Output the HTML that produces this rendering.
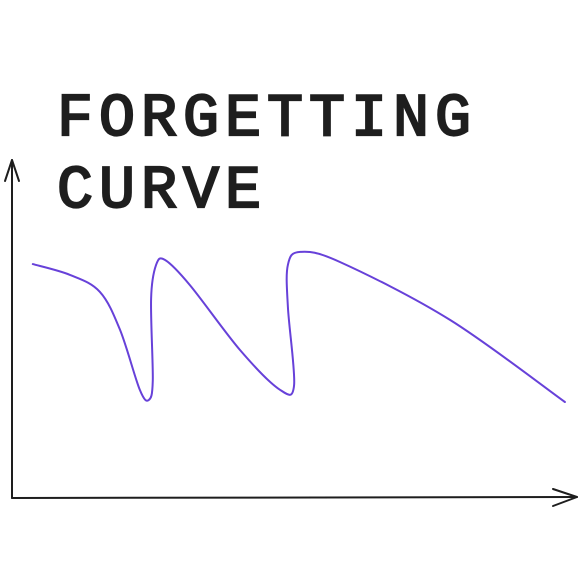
<!DOCTYPE html>
<html><head><meta charset="utf-8"><style>
html,body{margin:0;padding:0;background:#fff;}
svg{display:block;}
</style></head><body>
<svg width="586" height="586" viewBox="0 0 586 586">
<rect width="586" height="586" fill="#ffffff"/>
<text x="57" y="135" font-family="Liberation Mono, monospace" font-size="60" letter-spacing="6" fill="#1e1e1e" stroke="#1e1e1e" stroke-width="2.2">FORGETTING</text>
<text x="57" y="207" font-family="Liberation Mono, monospace" font-size="60" letter-spacing="6" fill="#1e1e1e" stroke="#1e1e1e" stroke-width="2.2">CURVE</text>
<g fill="none" stroke="#1e1e1e" stroke-width="2" stroke-linecap="round" stroke-linejoin="round">
<path d="M12 498 L12 160"/>
<path d="M5 181 L12 160 L19 181"/>
<path d="M12 498 L577 497"/>
<path d="M553 489 L577 497 L553 506"/>
</g>
<path id="curve" fill="none" stroke="#6741d9" stroke-width="2" stroke-linecap="round" stroke-linejoin="round"/>
</svg>
<script>
const timeValues = [3.7, 10.3, 15.6, 19.2, 22.7, 24.3, 25.0, 24.7, 25.6, 27.2, 31.6, 40.5, 47.6, 50.1, 49.0, 49.0, 51.2, 58.3, 77.8, 98.2];
const retentionValues = [69.2, 66, 61, 49.7, 32, 29, 35, 58.9, 69, 70.4, 63, 43.8, 32, 33.4, 56.5, 69, 72.8, 69.8, 52.7, 28.4];
function xScale(v){return 12 + v*5.63;}
function yScale(v){return 498 - v*3.38;}
const pts = timeValues.map((t,i)=>[xScale(t), yScale(retentionValues[i])]);
let d = 'M'+pts[0][0].toFixed(1)+' '+pts[0][1].toFixed(1);
for(let i=0;i<pts.length-1;i++){
  const p0=pts[Math.max(0,i-1)], p1=pts[i], p2=pts[i+1], p3=pts[Math.min(pts.length-1,i+2)];
  const c1=[p1[0]+(p2[0]-p0[0])/6, p1[1]+(p2[1]-p0[1])/6];
  const c2=[p2[0]-(p3[0]-p1[0])/6, p2[1]-(p3[1]-p1[1])/6];
  d+=' C'+c1[0].toFixed(1)+' '+c1[1].toFixed(1)+' '+c2[0].toFixed(1)+' '+c2[1].toFixed(1)+' '+p2[0].toFixed(1)+' '+p2[1].toFixed(1);
}
document.getElementById('curve').setAttribute('d', d);
</script>
</body></html>
